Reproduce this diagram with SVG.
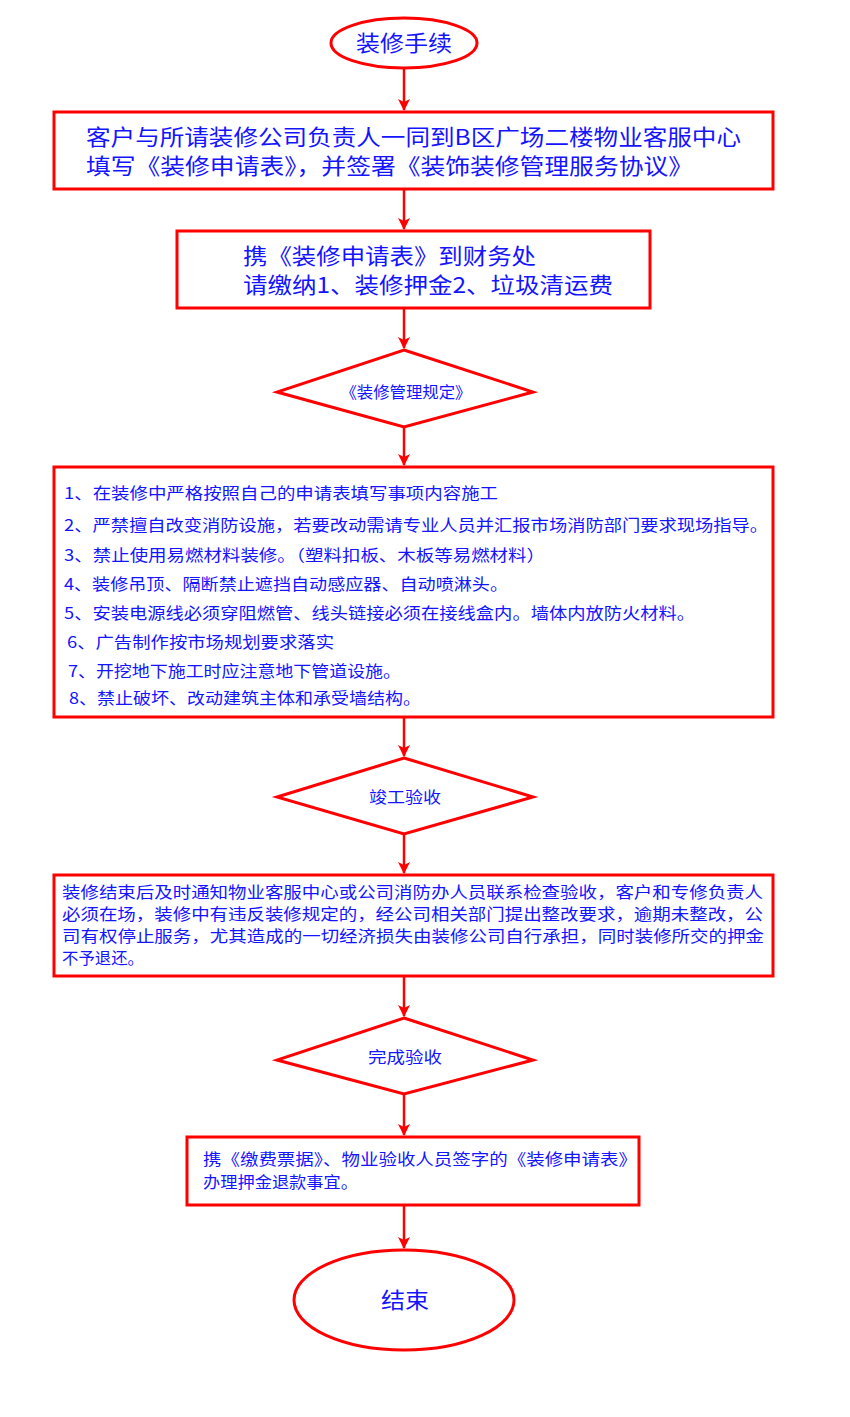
<svg xmlns="http://www.w3.org/2000/svg" width="850" height="1417" viewBox="0 0 850 1417">
<defs>
<marker id="arr" viewBox="0 0 12 12" refX="11" refY="6" markerWidth="12" markerHeight="12" markerUnits="userSpaceOnUse" orient="auto">
<path d="M0,0 L12,6 L0,12 L3,6 z" fill="#ff0000"/>
</marker>
<style>
.sh{fill:#ffffff;stroke:#ff0000;stroke-width:3}
.ln{stroke:#ff0000;stroke-width:2.5;fill:none;marker-end:url(#arr)}
text{font-family:"Noto Sans CJK SC","Noto Sans",sans-serif;fill:#1414ff}
.big{font-size:22px}
.mid{font-size:16px}
.c{text-anchor:middle}
</style>
</defs>
<rect width="850" height="1417" fill="#ffffff"/>
<g id="connectors">
<line class="ln" x1="404" y1="68" x2="404" y2="110"/>
<line class="ln" x1="404" y1="189" x2="404" y2="229"/>
<line class="ln" x1="404" y1="308" x2="404" y2="348"/>
<line class="ln" x1="404" y1="427" x2="404" y2="465"/>
<line class="ln" x1="404" y1="717" x2="404" y2="756"/>
<line class="ln" x1="404" y1="834" x2="404" y2="873"/>
<line class="ln" x1="404" y1="976" x2="404" y2="1016"/>
<line class="ln" x1="404" y1="1094" x2="404" y2="1135"/>
<line class="ln" x1="404" y1="1205" x2="404" y2="1248"/>
</g>
<g id="start">
<ellipse class="sh" cx="404" cy="43" rx="73" ry="25"/>
<text class="big c" x="404" y="51" textLength="96" lengthAdjust="spacingAndGlyphs">装修手续</text>
</g>
<g id="step1">
<rect class="sh" x="54" y="112" width="719" height="77"/>
<text class="big" x="86" y="145" textLength="655" lengthAdjust="spacingAndGlyphs">客户与所请装修公司负责人一同到B区广场二楼物业客服中心</text>
<text class="big" x="86" y="174" textLength="607" lengthAdjust="spacingAndGlyphs">填写《装修申请表》，并签署《装饰装修管理服务协议》</text>
</g>
<g id="step2">
<rect class="sh" x="177" y="231" width="473" height="77"/>
<text class="big" x="243" y="264" textLength="293" lengthAdjust="spacingAndGlyphs">携《装修申请表》到财务处</text>
<text class="big" x="243" y="293" textLength="370" lengthAdjust="spacingAndGlyphs">请缴纳1、装修押金2、垃圾清运费</text>
</g>
<g id="rule">
<polygon class="sh" points="404,350 533,392 404,427 277,392"/>
<text class="c" x="406" y="398" font-size="16" textLength="131" lengthAdjust="spacingAndGlyphs">《装修管理规定》</text>
</g>
<g id="rules">
<rect class="sh" x="54" y="467" width="719" height="250"/>
<text class="mid" x="64" y="499" textLength="434" lengthAdjust="spacingAndGlyphs">1、在装修中严格按照自己的申请表填写事项内容施工</text>
<text class="mid" x="64" y="531" textLength="704" lengthAdjust="spacingAndGlyphs">2、严禁擅自改变消防设施，若要改动需请专业人员并汇报市场消防部门要求现场指导。</text>
<text class="mid" x="64" y="561" textLength="481" lengthAdjust="spacingAndGlyphs">3、禁止使用易燃材料装修。（塑料扣板、木板等易燃材料）</text>
<text class="mid" x="64" y="590" textLength="444" lengthAdjust="spacingAndGlyphs">4、装修吊顶、隔断禁止遮挡自动感应器、自动喷淋头。</text>
<text class="mid" x="64" y="619" textLength="631" lengthAdjust="spacingAndGlyphs">5、安装电源线必须穿阻燃管、线头链接必须在接线盒内。墙体内放防火材料。</text>
<text class="mid" x="67" y="648" textLength="267" lengthAdjust="spacingAndGlyphs">6、广告制作按市场规划要求落实</text>
<text class="mid" x="68" y="677" textLength="333" lengthAdjust="spacingAndGlyphs">7、开挖地下施工时应注意地下管道设施。</text>
<text class="mid" x="69" y="704" textLength="352" lengthAdjust="spacingAndGlyphs">8、禁止破坏、改动建筑主体和承受墙结构。</text>
</g>
<g id="check">
<polygon class="sh" points="404,758 533,797 404,834 277,797"/>
<text class="c" x="405" y="803" font-size="16" textLength="72" lengthAdjust="spacingAndGlyphs">竣工验收</text>
</g>
<g id="checkdesc">
<rect class="sh" x="54" y="875" width="719" height="101"/>
<text class="mid" x="62" y="898" textLength="701" lengthAdjust="spacingAndGlyphs">装修结束后及时通知物业客服中心或公司消防办人员联系检查验收，客户和专修负责人</text>
<text class="mid" x="62" y="920" textLength="701" lengthAdjust="spacingAndGlyphs">必须在场，装修中有违反装修规定的，经公司相关部门提出整改要求，逾期未整改，公</text>
<text class="mid" x="62" y="942" textLength="702" lengthAdjust="spacingAndGlyphs">司有权停止服务，尤其造成的一切经济损失由装修公司自行承担，同时装修所交的押金</text>
<text class="mid" x="62" y="964" textLength="82" lengthAdjust="spacingAndGlyphs">不予退还。</text>
</g>
<g id="done">
<polygon class="sh" points="404,1018 533,1060 404,1094 277,1060"/>
<text class="c" x="405" y="1063" font-size="16" textLength="74" lengthAdjust="spacingAndGlyphs">完成验收</text>
</g>
<g id="refund">
<rect class="sh" x="187" y="1137" width="452" height="68"/>
<text class="mid" x="203" y="1165" textLength="434" lengthAdjust="spacingAndGlyphs">携《缴费票据》、物业验收人员签字的《装修申请表》</text>
<text class="mid" x="203" y="1188" textLength="155" lengthAdjust="spacingAndGlyphs">办理押金退款事宜。</text>
</g>
<g id="end">
<ellipse class="sh" cx="404" cy="1300" rx="110" ry="50"/>
<text class="big c" x="405" y="1308" textLength="48" lengthAdjust="spacingAndGlyphs">结束</text>
</g>
</svg>
